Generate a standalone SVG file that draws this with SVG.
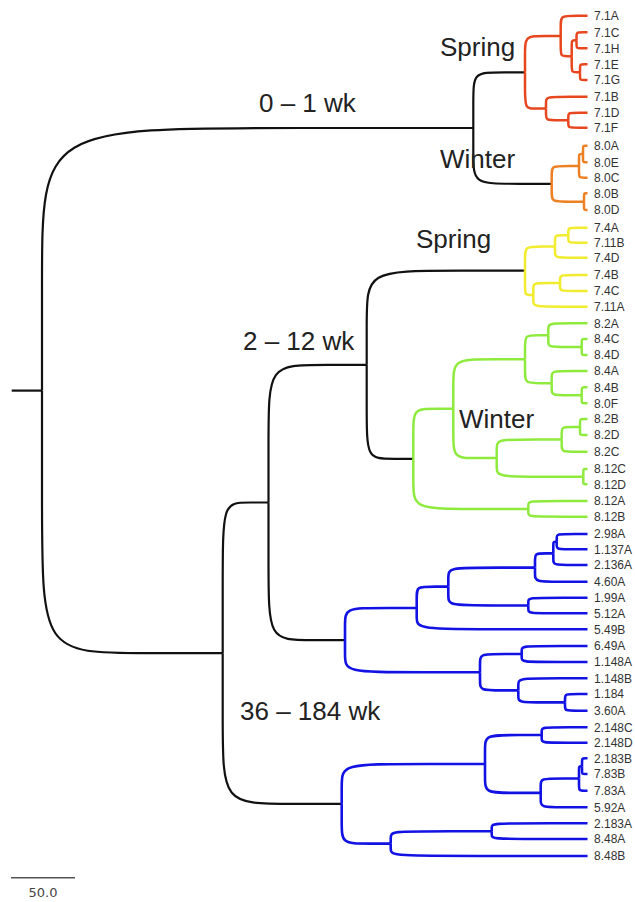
<svg xmlns="http://www.w3.org/2000/svg" width="635" height="902" viewBox="0 0 635 902">
<style>
.b{fill:none;stroke-linejoin:round;stroke-linecap:butt}
.k{stroke:#111;stroke-width:2.2}
.r{stroke:#E8461E;stroke-width:2.5}
.o{stroke:#EE8024;stroke-width:2.5}
.y{stroke:#F2EC2E;stroke-width:2.5}
.g{stroke:#8EEB3E;stroke-width:2.5}
.u{stroke:#1212E4;stroke-width:2.6}
.lbl{font-family:"Liberation Sans",Arial,Helvetica,sans-serif;font-size:12px;fill:#333}
.grp{font-family:"Liberation Sans",Arial,Helvetica,sans-serif;font-size:26px;fill:#222}
.sc{font-family:"DejaVu Sans",Verdana,sans-serif;font-size:13px;fill:#444}
</style>
<rect width="635" height="902" fill="#fff"/>
<g id="connectors">
<g id="black-branches" class="b k">
<path d="M11.7,390.6 H42"/>
<path d="M42,390.6 V285.6 C42,128 42,128 300.8,128 H473.3"/>
<path d="M42,390.6 V495.6 C42,653.2 42,653.2 150.4,653.2 H222.7"/>
<path d="M473.3,128 V105.7 C473.3,72.3 473.3,72.3 504.3,72.3 H525"/>
<path d="M473.3,128 V150.3 C473.3,183.8 473.3,183.8 520.3,183.8 H551.7"/>
<path d="M222.7,653.2 V592.9 C222.7,502.5 222.7,502.5 250.2,502.5 H268.5"/>
<path d="M222.7,653.2 V713.4 C222.7,803.8 222.7,803.8 294.1,803.8 H341.7"/>
<path d="M268.5,502.5 V447.4 C268.5,364.8 268.5,364.8 327.4,364.8 H366.7"/>
<path d="M268.5,502.5 V557.5 C268.5,640.1 268.5,640.1 314.4,640.1 H345"/>
<path d="M366.7,364.8 V327.2 C366.7,270.7 366.7,270.7 461.7,270.7 H525"/>
<path d="M366.7,364.8 V402.4 C366.7,458.8 366.7,458.8 394.7,458.8 H413.3"/>
</g>
<g id="spring-0-1wk-branches" class="b r">
<path d="M525,72.3 V57.8 C525,36 525,36 546.4,36 H560.7"/>
<path d="M525,72.3 V86.8 C525,108.5 525,108.5 537.6,108.5 H546"/>
<path d="M560.7,36 V27.9 C560.7,15.7 560.7,15.7 576.8,15.7 H587.5"/>
<path d="M560.7,36 V44.1 C560.7,56.2 560.7,56.2 567.3,56.2 H571.7"/>
<path d="M571.7,56.2 V49.8 C571.7,40.3 571.7,40.3 574.6,40.3 H576.5"/>
<path d="M571.7,56.2 V62.6 C571.7,72.2 571.7,72.2 576.7,72.2 H580"/>
<path d="M576.5,40.3 V37.1 C576.5,32.3 576.5,32.3 583.1,32.3 H587.5"/>
<path d="M576.5,40.3 V43.5 C576.5,48.3 576.5,48.3 583.1,48.3 H587.5"/>
<path d="M580,72.2 V69 C580,64.3 580,64.3 584.5,64.3 H587.5"/>
<path d="M580,72.2 V75.3 C580,80 580,80 584.5,80 H587.5"/>
<path d="M546,108.5 V103.8 C546,96.7 546,96.7 570.9,96.7 H587.5"/>
<path d="M546,108.5 V113.2 C546,120.2 546,120.2 559.4,120.2 H568.3"/>
<path d="M568.3,120.2 V117.2 C568.3,112.7 568.3,112.7 579.8,112.7 H587.5"/>
<path d="M568.3,120.2 V123.2 C568.3,127.7 568.3,127.7 579.8,127.7 H587.5"/>
</g>
<g id="winter-0-1wk-branches" class="b o">
<path d="M551.7,183.8 V176.6 C551.7,165.9 551.7,165.9 568.1,165.9 H579"/>
<path d="M551.7,183.8 V191 C551.7,201.7 551.7,201.7 571.1,201.7 H584"/>
<path d="M579,165.9 V161.1 C579,154 579,154 581.4,154 H583"/>
<path d="M579,165.9 V170.6 C579,177.7 579,177.7 584.1,177.7 H587.5"/>
<path d="M583,154 V150.7 C583,145.7 583,145.7 585.7,145.7 H587.5"/>
<path d="M583,154 V157.3 C583,162.3 583,162.3 585.7,162.3 H587.5"/>
<path d="M584,201.7 V198.3 C584,193.3 584,193.3 586.1,193.3 H587.5"/>
<path d="M584,201.7 V205 C584,210 584,210 586.1,210 H587.5"/>
</g>
<g id="spring-2-12wk-branches" class="b y">
<path d="M525,270.7 V261 C525,246.5 525,246.5 543,246.5 H555"/>
<path d="M525,270.7 V280.4 C525,294.9 525,294.9 530,294.9 H533.3"/>
<path d="M555,246.5 V242 C555,235.2 555,235.2 563,235.2 H568.3"/>
<path d="M555,246.5 V251 C555,257.7 555,257.7 574.5,257.7 H587.5"/>
<path d="M568.3,235.2 V232.2 C568.3,227.7 568.3,227.7 579.8,227.7 H587.5"/>
<path d="M568.3,235.2 V238.2 C568.3,242.7 568.3,242.7 579.8,242.7 H587.5"/>
<path d="M533.3,294.9 V290.1 C533.3,283 533.3,283 549.3,283 H560"/>
<path d="M533.3,294.9 V299.6 C533.3,306.7 533.3,306.7 565.8,306.7 H587.5"/>
<path d="M560,283 V279.8 C560,275 560,275 576.5,275 H587.5"/>
<path d="M560,283 V286.2 C560,291 560,291 576.5,291 H587.5"/>
</g>
<g id="winter-2-12wk-branches" class="b g">
<path d="M413.3,458.8 V438.8 C413.3,408.7 413.3,408.7 437.3,408.7 H453.3"/>
<path d="M413.3,458.8 V478.8 C413.3,508.9 413.3,508.9 482.3,508.9 H528.3"/>
<path d="M453.3,408.7 V388.9 C453.3,359.2 453.3,359.2 496.3,359.2 H525"/>
<path d="M453.3,408.7 V428.5 C453.3,458.1 453.3,458.1 479.3,458.1 H496.7"/>
<path d="M525,359.2 V349.6 C525,335.2 525,335.2 539,335.2 H548.3"/>
<path d="M525,359.2 V368.8 C525,383.2 525,383.2 541,383.2 H551.7"/>
<path d="M548.3,335.2 V330.4 C548.3,323.3 548.3,323.3 571.8,323.3 H587.5"/>
<path d="M548.3,335.2 V339.9 C548.3,347 548.3,347 568.3,347 H581.7"/>
<path d="M581.7,347 V343.8 C581.7,339 581.7,339 585.2,339 H587.5"/>
<path d="M581.7,347 V350.2 C581.7,355 581.7,355 585.2,355 H587.5"/>
<path d="M551.7,383.2 V378.3 C551.7,371 551.7,371 573.2,371 H587.5"/>
<path d="M551.7,383.2 V388 C551.7,395.3 551.7,395.3 569.7,395.3 H581.7"/>
<path d="M581.7,395.3 V392.1 C581.7,387.3 581.7,387.3 585.2,387.3 H587.5"/>
<path d="M581.7,395.3 V398.5 C581.7,403.3 581.7,403.3 585.2,403.3 H587.5"/>
<path d="M496.7,458.1 V450.6 C496.7,439.4 496.7,439.4 535.7,439.4 H561.7"/>
<path d="M496.7,458.1 V465.5 C496.7,476.7 496.7,476.7 548.7,476.7 H583.3"/>
<path d="M561.7,439.4 V434.4 C561.7,427 561.7,427 572.7,427 H580"/>
<path d="M561.7,439.4 V444.3 C561.7,451.7 561.7,451.7 577.2,451.7 H587.5"/>
<path d="M580,427 V423.8 C580,419 580,419 584.5,419 H587.5"/>
<path d="M580,427 V430.2 C580,435 580,435 584.5,435 H587.5"/>
<path d="M583.3,476.7 V473.6 C583.3,469 583.3,469 585.8,469 H587.5"/>
<path d="M583.3,476.7 V479.7 C583.3,484.3 583.3,484.3 585.8,484.3 H587.5"/>
<path d="M528.3,508.9 V505.7 C528.3,501 528.3,501 563.8,501 H587.5"/>
<path d="M528.3,508.9 V512 C528.3,516.7 528.3,516.7 563.8,516.7 H587.5"/>
</g>
<g id="adult-a-branches" class="b u">
<path d="M345,640.1 V627.3 C345,608 345,608 388,608 H416.7"/>
<path d="M345,640.1 V652.9 C345,672.2 345,672.2 426,672.2 H480"/>
<path d="M416.7,608 V599.4 C416.7,586.6 416.7,586.6 435.7,586.6 H448.3"/>
<path d="M416.7,608 V616.5 C416.7,629.3 416.7,629.3 519.2,629.3 H587.5"/>
<path d="M448.3,586.6 V579 C448.3,567.6 448.3,567.6 500.3,567.6 H535"/>
<path d="M448.3,586.6 V594.2 C448.3,605.5 448.3,605.5 496.3,605.5 H528.3"/>
<path d="M535,567.6 V561.9 C535,553.4 535,553.4 546,553.4 H553.3"/>
<path d="M535,567.6 V573.2 C535,581.7 535,581.7 566.5,581.7 H587.5"/>
<path d="M553.3,553.4 V548.7 C553.3,541.7 553.3,541.7 555.3,541.7 H556.7"/>
<path d="M553.3,553.4 V558 C553.3,565 553.3,565 573.8,565 H587.5"/>
<path d="M556.7,541.7 V538.6 C556.7,534 556.7,534 575.2,534 H587.5"/>
<path d="M556.7,541.7 V544.7 C556.7,549.3 556.7,549.3 575.2,549.3 H587.5"/>
<path d="M528.3,605.5 V602.4 C528.3,597.7 528.3,597.7 563.8,597.7 H587.5"/>
<path d="M528.3,605.5 V608.6 C528.3,613.3 528.3,613.3 563.8,613.3 H587.5"/>
<path d="M480,672.2 V664.9 C480,654 480,654 505,654 H521.7"/>
<path d="M480,672.2 V679.5 C480,690.4 480,690.4 503,690.4 H518.3"/>
<path d="M521.7,654 V650.8 C521.7,646 521.7,646 561.2,646 H587.5"/>
<path d="M521.7,654 V657.2 C521.7,662 521.7,662 561.2,662 H587.5"/>
<path d="M518.3,690.4 V685.6 C518.3,678.3 518.3,678.3 559.8,678.3 H587.5"/>
<path d="M518.3,690.4 V695.2 C518.3,702.4 518.3,702.4 546.3,702.4 H565"/>
<path d="M565,702.4 V699 C565,694 565,694 578.5,694 H587.5"/>
<path d="M565,702.4 V705.7 C565,710.7 565,710.7 578.5,710.7 H587.5"/>
</g>
<g id="adult-b-branches" class="b u">
<path d="M341.7,803.8 V787.9 C341.7,764 341.7,764 427.7,764 H485"/>
<path d="M341.7,803.8 V819.7 C341.7,843.6 341.7,843.6 371.1,843.6 H390.7"/>
<path d="M485,764 V752.4 C485,735 485,735 519,735 H541.7"/>
<path d="M485,764 V775.6 C485,792.9 485,792.9 518.4,792.9 H540.7"/>
<path d="M541.7,735 V731.9 C541.7,727.3 541.7,727.3 569.2,727.3 H587.5"/>
<path d="M541.7,735 V738.1 C541.7,742.7 541.7,742.7 569.2,742.7 H587.5"/>
<path d="M540.7,792.9 V787.1 C540.7,778.5 540.7,778.5 563.7,778.5 H579"/>
<path d="M540.7,792.9 V798.7 C540.7,807.3 540.7,807.3 568.7,807.3 H587.5"/>
<path d="M579,778.5 V773.6 C579,766.2 579,766.2 580.8,766.2 H582"/>
<path d="M579,778.5 V783.4 C579,790.7 579,790.7 584.1,790.7 H587.5"/>
<path d="M582,766.2 V763 C582,758.3 582,758.3 585.3,758.3 H587.5"/>
<path d="M582,766.2 V769.3 C582,774 582,774 585.3,774 H587.5"/>
<path d="M390.7,843.6 V838.6 C390.7,831.2 390.7,831.2 451.3,831.2 H491.7"/>
<path d="M390.7,843.6 V848.6 C390.7,856 390.7,856 508.7,856 H587.5"/>
<path d="M491.7,831.2 V828 C491.7,823.3 491.7,823.3 549.2,823.3 H587.5"/>
<path d="M491.7,831.2 V834.3 C491.7,839 491.7,839 549.2,839 H587.5"/>
</g>
</g>
<g id="clade-labels" class="grp">
<g id="lbl-0-1wk"><text x="259" y="112">0 – 1 wk</text></g>
<g id="lbl-spring-1"><text x="440" y="56">Spring</text></g>
<g id="lbl-winter-1"><text x="440" y="168">Winter</text></g>
<g id="lbl-2-12wk"><text x="243" y="350">2 – 12 wk</text></g>
<g id="lbl-spring-2"><text x="416" y="248">Spring</text></g>
<g id="lbl-winter-2"><text x="459" y="428">Winter</text></g>
<g id="lbl-36-184wk"><text x="240" y="720">36 – 184 wk</text></g>
</g>
<g id="leaves" class="lbl">
<g id="leaf-7-1A"><text x="594" y="20">7.1A</text></g>
<g id="leaf-7-1C"><text x="594" y="36.6">7.1C</text></g>
<g id="leaf-7-1H"><text x="594" y="52.6">7.1H</text></g>
<g id="leaf-7-1E"><text x="594" y="68.6">7.1E</text></g>
<g id="leaf-7-1G"><text x="594" y="84.3">7.1G</text></g>
<g id="leaf-7-1B"><text x="594" y="101">7.1B</text></g>
<g id="leaf-7-1D"><text x="594" y="117">7.1D</text></g>
<g id="leaf-7-1F"><text x="594" y="132">7.1F</text></g>
<g id="leaf-8-0A"><text x="594" y="150">8.0A</text></g>
<g id="leaf-8-0E"><text x="594" y="166.6">8.0E</text></g>
<g id="leaf-8-0C"><text x="594" y="182">8.0C</text></g>
<g id="leaf-8-0B"><text x="594" y="197.6">8.0B</text></g>
<g id="leaf-8-0D"><text x="594" y="214.3">8.0D</text></g>
<g id="leaf-7-4A"><text x="594" y="232">7.4A</text></g>
<g id="leaf-7-11B"><text x="594" y="247">7.11B</text></g>
<g id="leaf-7-4D"><text x="594" y="262">7.4D</text></g>
<g id="leaf-7-4B"><text x="594" y="279.3">7.4B</text></g>
<g id="leaf-7-4C"><text x="594" y="295.3">7.4C</text></g>
<g id="leaf-7-11A"><text x="594" y="311">7.11A</text></g>
<g id="leaf-8-2A"><text x="594" y="327.6">8.2A</text></g>
<g id="leaf-8-4C"><text x="594" y="343.3">8.4C</text></g>
<g id="leaf-8-4D"><text x="594" y="359.3">8.4D</text></g>
<g id="leaf-8-4A"><text x="594" y="375.3">8.4A</text></g>
<g id="leaf-8-4B"><text x="594" y="391.6">8.4B</text></g>
<g id="leaf-8-0F"><text x="594" y="407.6">8.0F</text></g>
<g id="leaf-8-2B"><text x="594" y="423.3">8.2B</text></g>
<g id="leaf-8-2D"><text x="594" y="439.3">8.2D</text></g>
<g id="leaf-8-2C"><text x="594" y="456">8.2C</text></g>
<g id="leaf-8-12C"><text x="594" y="473.3">8.12C</text></g>
<g id="leaf-8-12D"><text x="594" y="488.6">8.12D</text></g>
<g id="leaf-8-12A"><text x="594" y="505.3">8.12A</text></g>
<g id="leaf-8-12B"><text x="594" y="521">8.12B</text></g>
<g id="leaf-2-98A"><text x="594" y="538.3">2.98A</text></g>
<g id="leaf-1-137A"><text x="594" y="553.6">1.137A</text></g>
<g id="leaf-2-136A"><text x="594" y="569.3">2.136A</text></g>
<g id="leaf-4-60A"><text x="594" y="586">4.60A</text></g>
<g id="leaf-1-99A"><text x="594" y="602">1.99A</text></g>
<g id="leaf-5-12A"><text x="594" y="617.6">5.12A</text></g>
<g id="leaf-5-49B"><text x="594" y="633.6">5.49B</text></g>
<g id="leaf-6-49A"><text x="594" y="650.3">6.49A</text></g>
<g id="leaf-1-148A"><text x="594" y="666.3">1.148A</text></g>
<g id="leaf-1-148B"><text x="594" y="682.6">1.148B</text></g>
<g id="leaf-1-184"><text x="594" y="698.3">1.184</text></g>
<g id="leaf-3-60A"><text x="594" y="715">3.60A</text></g>
<g id="leaf-2-148C"><text x="594" y="731.6">2.148C</text></g>
<g id="leaf-2-148D"><text x="594" y="747">2.148D</text></g>
<g id="leaf-2-183B"><text x="594" y="762.6">2.183B</text></g>
<g id="leaf-7-83B"><text x="594" y="778.3">7.83B</text></g>
<g id="leaf-7-83A"><text x="594" y="795">7.83A</text></g>
<g id="leaf-5-92A"><text x="594" y="811.6">5.92A</text></g>
<g id="leaf-2-183A"><text x="594" y="827.6">2.183A</text></g>
<g id="leaf-8-48A"><text x="594" y="843.3">8.48A</text></g>
<g id="leaf-8-48B"><text x="594" y="860.3">8.48B</text></g>
</g>
<g id="scale-bar">
<line x1="11" y1="877.7" x2="75" y2="877.7" stroke="#555" stroke-width="1.6"/>
<text class="sc" x="43" y="897" text-anchor="middle">50.0</text>
</g>
</svg>
